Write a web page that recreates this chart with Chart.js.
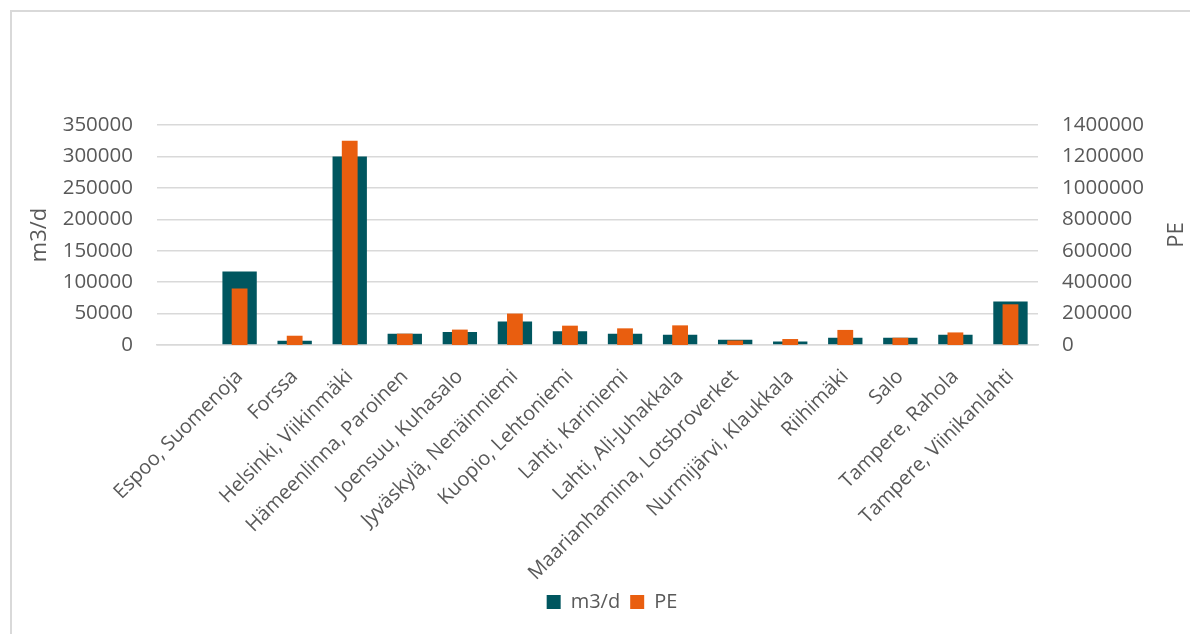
<!DOCTYPE html>
<html>
<head>
<meta charset="utf-8">
<script src="https://cdn.jsdelivr.net/npm/chart.js@4"></script>
<style>
  html, body { margin: 0; padding: 0; background: #fff; overflow: hidden; }
  .frame { position: absolute; left: 10px; top: 10px; width: 1240px; height: 640px;
           border-left: 2px solid #d9d9d9; border-top: 2px solid #d9d9d9; }
  .wrap { position: absolute; left: 0; top: 0; width: 1224px; height: 634px; }
</style>
</head>
<body>
<div class="frame"></div>
<!-- the Excel chart runs past the right edge of the shot, so the canvas does too -->
<div class="wrap"><canvas id="chart" width="1224" height="634"></canvas></div>
<script>
// first category is empty in the original sheet
const plants = [
  "", "Espoo, Suomenoja", "Forssa", "Helsinki, Viikinmäki", "Hämeenlinna, Paroinen",
  "Joensuu, Kuhasalo", "Jyväskylä, Nenäinniemi", "Kuopio, Lehtoniemi", "Lahti, Kariniemi",
  "Lahti, Ali-Juhakkala", "Maarianhamina, Lotsbroverket", "Nurmijärvi, Klaukkala",
  "Riihimäki", "Salo", "Tampere, Rahola", "Tampere, Viinikanlahti"
];
const flowM3d = [null, 117000, 6900, 300000, 18000, 20700, 37200, 21700, 18000,
  16500, 8500, 5700, 11700, 11500, 16500, 69100];
const pe = [null, 360000, 59000, 1300000, 72000, 98000, 200000, 123000, 106000,
  125000, 29000, 38000, 96000, 46000, 80000, 259000];

const leftTicks = { min: 0, max: 350000, step: 50000 };
const rightTicks = { min: 0, max: 1400000, step: 200000 };

const textColor = "#595959";
const fontFamily = "'Open Sans', sans-serif";

// "PE" title on the right reads bottom-to-top like Excel
const rightTitle = {
  id: "rightTitle",
  afterDraw(chart) {
    const { ctx, chartArea } = chart;
    ctx.save();
    ctx.fillStyle = textColor;
    ctx.font = "22px " + fontFamily;
    ctx.textAlign = "center";
    ctx.textBaseline = "middle";
    ctx.translate(1177, (chartArea.top + chartArea.bottom) / 2);
    ctx.rotate(-Math.PI / 2);
    ctx.fillText("PE", 0, 0);
    ctx.restore();
  }
};

new Chart(document.getElementById("chart"), {
  type: "bar",
  data: {
    labels: plants,
    datasets: [
      {
        label: "m3/d",
        data: flowM3d,
        yAxisID: "y",
        backgroundColor: "#00565F",
        barPercentage: 0.624,
        categoryPercentage: 1,
        grouped: false,
        order: 2
      },
      {
        label: "PE",
        data: pe,
        yAxisID: "y1",
        backgroundColor: "#E95E0F",
        barPercentage: 0.287,
        categoryPercentage: 1,
        grouped: false,
        order: 1
      }
    ]
  },
  options: {
    responsive: false,
    animation: false,
    devicePixelRatio: 1,
    layout: { padding: { top: 125, left: 0, right: 0, bottom: 12 } },
    plugins: {
      tooltip: { enabled: false },
      legend: {
        position: "bottom",
        labels: {
          boxWidth: 14,
          boxHeight: 14,
          padding: 10,
          color: textColor,
          font: { family: fontFamily, size: 20 },
          sort: (a, b) => a.datasetIndex - b.datasetIndex
        }
      }
    },
    scales: {
      x: {
        grid: { display: false, drawTicks: false },
        border: { color: "#d9d9d9", width: 1.5 },
        ticks: {
          autoSkip: false,
          minRotation: 45,
          maxRotation: 45,
          padding: 20,
          color: textColor,
          font: { family: fontFamily, size: 20 }
        },
        afterFit(scale) { scale.height = 237; }
      },
      y: {
        position: "left",
        min: leftTicks.min,
        max: leftTicks.max,
        ticks: {
          stepSize: leftTicks.step,
          padding: 24,
          color: textColor,
          font: { family: fontFamily, size: 20.5 },
          callback: (v) => String(v)
        },
        grid: { color: "#d9d9d9", lineWidth: 1.5, drawTicks: false },
        border: { display: false },
        title: {
          display: true,
          text: "m3/d",
          color: textColor,
          font: { family: fontFamily, size: 22 },
          padding: { top: 27, bottom: 0 }
        },
        afterFit(scale) { scale.width = 157; }
      },
      y1: {
        position: "right",
        min: rightTicks.min,
        max: rightTicks.max,
        ticks: {
          stepSize: rightTicks.step,
          padding: 24,
          color: textColor,
          font: { family: fontFamily, size: 20.5 },
          callback: (v) => String(v)
        },
        grid: { display: false, drawTicks: false },
        border: { display: false },
        afterFit(scale) { scale.width = 186; }
      }
    }
  },
  plugins: [rightTitle]
});
</script>
</body>
</html>
